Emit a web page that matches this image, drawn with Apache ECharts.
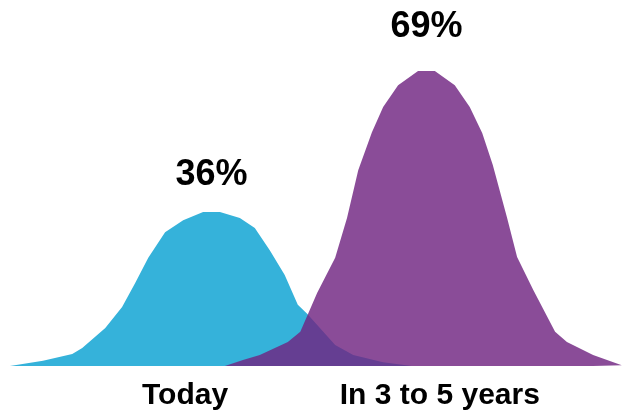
<!DOCTYPE html>
<html>
<head>
<meta charset="utf-8">
<script src="https://cdn.jsdelivr.net/npm/echarts@6/dist/echarts.min.js"></script>
<style>
html,body{margin:0;padding:0;background:#fff;}
#chart{width:623px;height:413px;}
</style>
</head>
<body>
<div id="chart"></div>
<script>
// Curve values: [position along horizontal scale (0-100), height in % units]
var todayCurve = [
  [1.6,0],[6.9,1.2],[11.6,2.8],[13.2,4.2],[16.9,8.9],[19.6,13.8],[21.7,19.4],
  [23.8,25.3],[26.5,31.3],[29.4,34.1],[32.6,36],[35.3,36],[38.5,34.6],[40.9,32.3],
  [43.3,27.1],[45.7,21.3],[47.8,14.3],[49.3,12.2],[53.8,4.9],[56.7,2.6],[61.5,0.9],[66.1,0]
];
var futureCurve = [
  [36.1,0],[39.0,1.4],[41.7,2.6],[46.2,5.6],[48.2,8.0],[49.3,11.7],[50.9,17.1],
  [53.8,25.3],[55.7,34.6],[57.5,45.8],[59.7,54.7],[61.5,60.6],[63.9,65.7],[67.1,69],
  [69.8,69],[73.0,65.7],[75.4,60.6],[77.4,54.5],[79.1,47.0],[81.4,34.6],[83.0,25.5],
  [85.6,17.8],[89.1,8.0],[91.0,5.6],[95.2,2.6],[99.8,0.2]
];
var peakLabels = ['36%', '69%'];
var peakPoints = [[33.95,36],[68.45,69]];
var categoryLabels = ['Today', 'In 3 to 5 years'];
var categoryCenters = [29.7, 70.6];

var chart = echarts.init(document.getElementById('chart'), null, {renderer:'canvas'});
var fontFam = 'Arial, "Liberation Sans", sans-serif';
chart.setOption({
  animation: false,
  backgroundColor: '#ffffff',
  grid: {left: 0, right: 0, top: 24, bottom: 47},
  xAxis: {type: 'value', min: 0, max: 100, show: false},
  yAxis: {type: 'value', min: 0, max: 80, show: false},
  series: [
    {
      type: 'line', data: todayCurve, showSymbol: false, smooth: false, clip: false,
      lineStyle: {width: 0}, itemStyle: {color: '#35B2DA'},
      areaStyle: {color: '#35B2DA', opacity: 1}, silent: true, z: 2
    },
    {
      type: 'line', data: futureCurve, showSymbol: false, smooth: false, clip: false,
      lineStyle: {width: 0}, itemStyle: {color: 'rgb(112,36,129)'},
      areaStyle: {color: 'rgb(112,36,129)', opacity: 0.82}, silent: true, z: 3
    }
  ]
});

// Place texts through the chart's own coordinate conversion
var peakOffsets = [37, 44];
var elements = [];
peakPoints.forEach(function (p, i) {
  var px = chart.convertToPixel({gridIndex: 0}, p);
  elements.push({
    type: 'text', x: px[0], y: px[1] - peakOffsets[i], z: 10,
    style: {
      text: peakLabels[i], fill: '#000000', font: 'bold 36px ' + fontFam,
      align: 'center', verticalAlign: 'middle'
    }
  });
});
categoryCenters.forEach(function (c, i) {
  var px = chart.convertToPixel({gridIndex: 0}, [c, 0]);
  elements.push({
    type: 'text', x: px[0], y: px[1] + 30, z: 10,
    style: {
      text: categoryLabels[i], fill: '#000000', font: 'bold 30px ' + fontFam,
      align: 'center', verticalAlign: 'middle'
    }
  });
});
chart.setOption({graphic: {elements: elements}});
</script>
</body>
</html>
